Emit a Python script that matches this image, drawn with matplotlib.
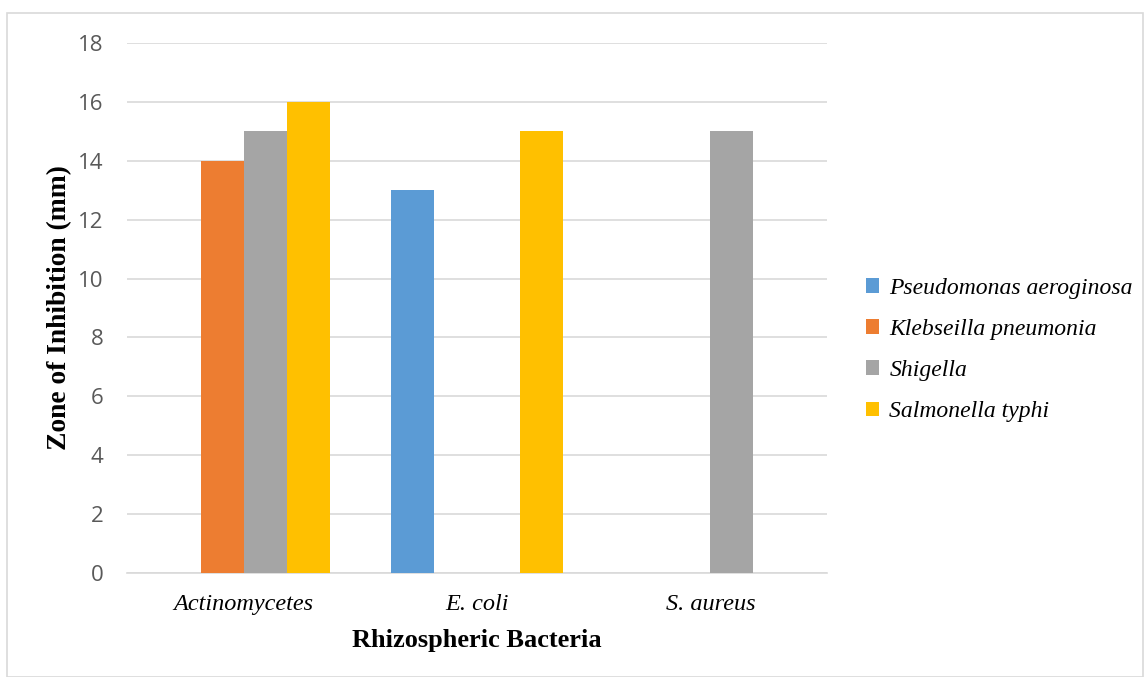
import numpy as np
import matplotlib
matplotlib.use("Agg")
import matplotlib.pyplot as plt
from matplotlib.patches import Rectangle

categories = ["Actinomycetes", "E. coli", "S. aureus"]
series_names = ["Pseudomonas aeroginosa", "Klebseilla pneumonia", "Shigella", "Salmonella typhi"]
pseudomonas = [0, 13, 0]
klebseilla = [14, 0, 0]
shigella = [15, 0, 15]
salmonella = [16, 15, 0]
colors = ["#5b9bd5", "#ed7d31", "#a5a5a5", "#ffc000"]

values = [pseudomonas, klebseilla, shigella, salmonella]

fig = plt.figure(figsize=(11.45, 6.77), dpi=100)
ax = fig.add_axes([127 / 1145, 1 - 573 / 677, 700 / 1145, 530 / 677])

x = np.arange(len(categories))
w = 0.184
for i, (vals, name, c) in enumerate(zip(values, series_names, colors)):
    ax.bar(x + (i - 1.5) * w, vals, w, color=c, label=name, zorder=3)

ax.set_xlim(-0.5, 2.5)
ax.set_ylim(0, 18)
ax.set_yticks(range(0, 19, 2))
ax.grid(axis="y", color="#d9d9d9", lw=1.2, zorder=0)
for s in ["top", "right", "left"]:
    ax.spines[s].set_visible(False)
ax.spines["bottom"].set_color("#d9d9d9")
ax.spines["bottom"].set_linewidth(1.2)
ax.tick_params(axis="both", length=0)
ax.tick_params(axis="y", labelsize=16, labelcolor="#595959", pad=17)
for t in ax.get_yticklabels():
    t.set_family("Open Sans")
ax.set_xticks(x)
ax.set_xticklabels(categories, fontsize=17.5, family="Liberation Serif", style="italic")
ax.tick_params(axis="x", pad=15)
ax.set_xlabel("Rhizospheric Bacteria", fontsize=19, family="Liberation Serif",
              fontweight="bold", labelpad=10)
ax.set_ylabel("Zone of Inhibition (mm)", fontsize=19.8, family="Liberation Serif",
              fontweight="bold", labelpad=4)

leg = ax.legend(loc="center left", bbox_to_anchor=(1.025, 0.421), frameon=False,
                prop={"family": "Liberation Serif", "style": "italic", "size": 17},
                handlelength=0.55, handleheight=0.55, handletextpad=0.45, labelspacing=0.85)

fig.patches.append(Rectangle((7 / 1145, 0), 1 - 9 / 1145, 1 - 13 / 677, transform=fig.transFigure,
                             fill=False, edgecolor="#d9d9d9", lw=1.2))

fig.savefig("out.png", dpi=100)
